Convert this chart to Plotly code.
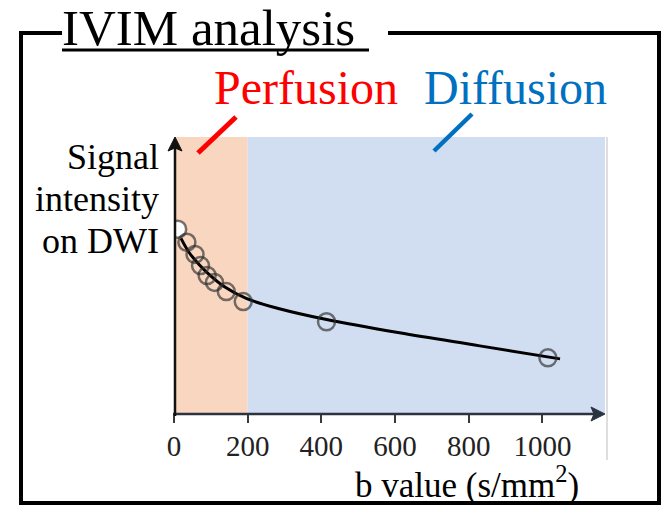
import plotly.graph_objects as go

# ---- data ----
b_points = [10, 35, 57, 72, 90, 110, 142, 188, 414, 1015]
signal_points = [0.667, 0.620, 0.576, 0.536, 0.500, 0.475, 0.442, 0.406, 0.333, 0.203]
b_fit = [19, 41, 68, 95, 136, 196, 286, 414, 612, 830, 1048]
signal_fit = [0.634, 0.583, 0.540, 0.504, 0.460, 0.417, 0.380, 0.341, 0.293, 0.246, 0.199]
x_ticks = [0, 200, 400, 600, 800, 1000]
perfusion_range = [0, 200]
diffusion_range = [200, 1170]
x_range = [0, 1170]
y_label_lines = ["Signal", "intensity", "on DWI"]

W, H = 663, 506
L, R, T, B = 174, 58, 137, 92
PW, PH = W - L - R, H - T - B
SERIF = "Liberation Serif, Times New Roman, serif"


def px(x):
    return (x - L) / PW


def py(y):
    return (H - B - y) / PH


def poly(points):
    return "M " + " L ".join("{} {}".format(px(a), py(b)) for a, b in points) + " Z"


fig = go.Figure()

fig.add_trace(go.Scatter(
    x=b_fit, y=signal_fit, mode="lines",
    line=dict(color="black", width=3, shape="spline"),
    hoverinfo="skip", showlegend=False))

fig.add_trace(go.Scatter(
    x=b_points, y=signal_points, mode="markers",
    marker=dict(size=17, symbol="circle",
                color=["white"] + ["rgba(0,0,0,0)"] * (len(b_points) - 1),
                line=dict(color="rgba(45,45,45,0.65)", width=2.5)),
    showlegend=False))

shapes = []
# shaded regions
shapes.append(dict(type="rect", xref="x", yref="paper", x0=perfusion_range[0], x1=perfusion_range[1],
                   y0=0, y1=1, fillcolor="#f8d6bf", line=dict(width=0), layer="below"))
shapes.append(dict(type="rect", xref="x", yref="paper", x0=diffusion_range[0], x1=diffusion_range[1],
                   y0=0, y1=1, fillcolor="#d1ddf1", line=dict(width=0), layer="below"))
# thin gray line right of plot
shapes.append(dict(type="line", xref="paper", yref="paper", x0=px(607), x1=px(607), y0=py(137), y1=py(460),
                   line=dict(color="#dedede", width=2)))
# axis lines with arrowheads
shapes.append(dict(type="line", xref="paper", yref="paper", x0=px(173), x1=px(596), y0=py(414), y1=py(414),
                   line=dict(color="#2b3340", width=2.5)))
shapes.append(dict(type="path", xref="paper", yref="paper", path=poly([(605, 414), (591, 407), (594, 414), (591, 421)]),
                   fillcolor="#2b3340", line=dict(color="#2b3340", width=1)))
shapes.append(dict(type="line", xref="paper", yref="paper", x0=px(175), x1=px(175), y0=py(416), y1=py(146),
                   line=dict(color="#111111", width=2.5)))
shapes.append(dict(type="path", xref="paper", yref="paper", path=poly([(175, 137), (168, 151), (175, 148), (182, 151)]),
                   fillcolor="#111111", line=dict(color="#111111", width=1)))
# outer frame
path = "M {} {} L {} {} L {} {} L {} {} L {} {} L {} {}".format(
    px(62), py(33), px(21), py(33), px(21), py(503), px(659), py(503), px(659), py(33), px(388), py(33))
shapes.append(dict(type="path", xref="paper", yref="paper", path=path,
                   line=dict(color="black", width=4)))
# title underline
shapes.append(dict(type="line", xref="paper", yref="paper", x0=px(62), x1=px(369), y0=py(50), y1=py(50),
                   line=dict(color="black", width=3)))
# slashes
shapes.append(dict(type="line", xref="paper", yref="paper", x0=px(198), x1=px(236), y0=py(153), y1=py(117),
                   line=dict(color="#ff0000", width=5)))
shapes.append(dict(type="line", xref="paper", yref="paper", x0=px(434), x1=px(472), y0=py(151), y1=py(114),
                   line=dict(color="#0070c0", width=4.5)))

annotations = []
annotations.append(dict(xref="paper", yref="paper", x=px(60), y=py(28), xanchor="left", yanchor="middle",
                        text="IVIM analysis", showarrow=False, font=dict(family=SERIF, size=51, color="black")))
annotations.append(dict(xref="paper", yref="paper", x=px(306), y=py(87), xanchor="center", yanchor="middle",
                        text="Perfusion", showarrow=False, font=dict(family=SERIF, size=48, color="#ff0000")))
annotations.append(dict(xref="paper", yref="paper", x=px(515), y=py(87), xanchor="center", yanchor="middle",
                        text="Diffusion", showarrow=False, font=dict(family=SERIF, size=48, color="#0070c0")))
for line_text, cy in zip(y_label_lines, [157, 199, 241]):
    annotations.append(dict(xref="paper", yref="paper", x=px(161), y=py(cy), xanchor="right", yanchor="middle",
                            text=line_text, showarrow=False,
                            font=dict(family=SERIF, size=36, color="black")))
annotations.append(dict(xref="paper", yref="paper", x=px(353), y=py(482), xanchor="left", yanchor="middle",
                        text="b value (s/mm<sup>2</sup>)", showarrow=False,
                        font=dict(family=SERIF, size=35, color="black")))

fig.update_layout(
    width=W, height=H,
    margin=dict(l=L, r=R, t=T, b=B),
    paper_bgcolor="white", plot_bgcolor="white",
    xaxis=dict(range=x_range, tickvals=x_ticks, ticktext=[str(t) for t in x_ticks],
               ticks="outside", ticklen=8, tickwidth=2, tickcolor="#3a3a3a", ticklabelstandoff=-2,
               showgrid=False, zeroline=False, showline=False, fixedrange=True,
               tickfont=dict(family=SERIF, size=29, color="#222222")),
    yaxis=dict(range=[0, 1], visible=False, showgrid=False, zeroline=False, fixedrange=True),
    shapes=shapes, annotations=annotations,
)

fig.write_html("out.html", config={"displayModeBar": False},
               post_script="document.body.style.margin='0';document.body.style.overflow='hidden';")
